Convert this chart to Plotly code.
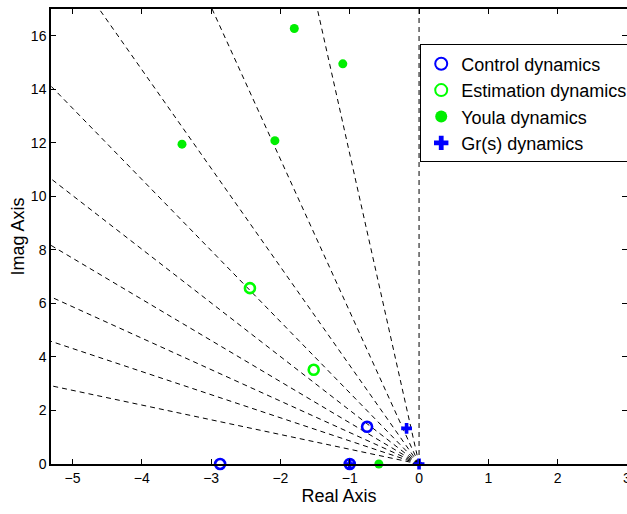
import numpy as np
import plotly.graph_objects as go

# ---- data ----
control_re = [-2.87, -1.0, -0.75]
control_im = [0.0, 0.0, 1.39]

estimation_re = [-2.44, -1.52]
estimation_im = [6.57, 3.52]

youla_re = [-3.42, -2.08, -1.80, -1.10, -0.58]
youla_im = [11.95, 12.08, 16.27, 14.95, 0.0]

gr_re = [-0.18, -1.0, 0.0]
gr_im = [1.33, 0.0, 0.0]

# damping-ratio grid lines (sgrid)
zeta_lines = [0.0, 0.086, 0.173, 0.262, 0.352, 0.446, 0.545, 0.648, 0.757, 0.876]
grid_radius = 25.0
origin_blob_radius = 0.07

x_ticks = [-5, -4, -3, -2, -1, 0, 1, 2, 3]
y_ticks = [0, 2, 4, 6, 8, 10, 12, 14, 16]

FONT = "Liberation Sans, Arial, Helvetica, sans-serif"

fig = go.Figure()

# grid lines
gx, gy = [], []
for z in zeta_lines:
    ang = np.arccos(z)
    gx += [0.0, -grid_radius * np.cos(ang), None]
    gy += [0.0, grid_radius * np.sin(ang), None]
fig.add_trace(go.Scatter(x=gx, y=gy, mode="lines", showlegend=False, hoverinfo="skip",
                         line=dict(color="black", width=1, dash="5px,4px")))

# small dense blob at origin (tiny wn circles)
th = np.linspace(0, np.pi, 30)
fig.add_trace(go.Scatter(x=list(origin_blob_radius * np.cos(th) - 0.02),
                         y=list(origin_blob_radius * 1.4 * np.sin(th)),
                         mode="lines", fill="toself", fillcolor="black",
                         line=dict(color="black", width=0.5),
                         showlegend=False, hoverinfo="skip"))

fig.add_trace(go.Scatter(x=control_re, y=control_im, mode="markers", name="Control dynamics",
                         cliponaxis=False,
                         marker=dict(symbol="circle-open", size=10, color="#0000ff",
                                     line=dict(width=2.6, color="#0000ff"))))
fig.add_trace(go.Scatter(x=estimation_re, y=estimation_im, mode="markers", name="Estimation dynamics",
                         cliponaxis=False,
                         marker=dict(symbol="circle-open", size=10, color="#00ff00",
                                     line=dict(width=2.6, color="#00ff00"))))
fig.add_trace(go.Scatter(x=youla_re, y=youla_im, mode="markers", name="Youla dynamics",
                         cliponaxis=False,
                         marker=dict(symbol="circle", size=9, color="#00ee00")))
fig.add_trace(go.Scatter(x=gr_re, y=gr_im, mode="markers", name="Gr(s) dynamics",
                         cliponaxis=False,
                         marker=dict(symbol="cross", size=9, color="#0000ff",
                                     line=dict(width=0))))

axis_common = dict(showline=True, linecolor="black", linewidth=1.5, mirror="ticks",
                   ticks="inside", ticklen=5, tickcolor="black", tickwidth=1,
                   showgrid=False, zeroline=False,
                   tickfont=dict(family=FONT, size=14, color="black"))

fig.update_xaxes(range=[-5.31, 3.0], tickvals=x_ticks,
                 title=dict(text="Real Axis", font=dict(family=FONT, size=18, color="black"), standoff=4),
                 **axis_common)
fig.update_yaxes(range=[0, 17], tickvals=y_ticks,
                 title=dict(text="Imag Axis", font=dict(family=FONT, size=18, color="black"), standoff=2),
                 **axis_common)

# figure is a bit wider than the window so that, as in the reference,
# the legend box runs past the right edge and is cut off there
fig.update_layout(
    width=660, height=514,
    margin=dict(l=51, r=33, t=7, b=50),
    plot_bgcolor="white", paper_bgcolor="white",
    font=dict(family=FONT, color="black"),
    legend=dict(x=0.641, y=0.922, xanchor="left", yanchor="top",
                bgcolor="white", bordercolor="black", borderwidth=1,
                font=dict(family=FONT, size=18, color="black"),
                itemsizing="constant", tracegroupgap=0),
)

fig.write_html("out.html", config={"displayModeBar": False},
               post_script="document.body.style.margin='0';document.body.style.overflow='hidden';")
